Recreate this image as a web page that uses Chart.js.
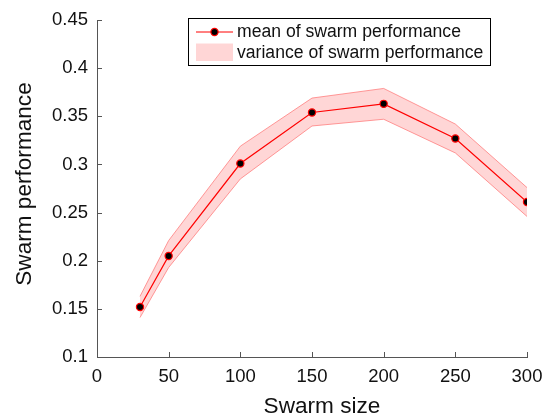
<!DOCTYPE html>
<html><head><meta charset="utf-8">
<script src="https://cdn.jsdelivr.net/npm/chart.js@4/dist/chart.umd.min.js"></script>
<style>html,body{margin:0;padding:0;background:#fff}canvas{display:block}</style>
</head><body>
<canvas id="c" width="552" height="415"></canvas>
<script>
// ---- data ----
const swarmSizes = [30, 50, 100, 150, 200, 250, 300];
const meanPerf   = [0.152, 0.205, 0.301, 0.354, 0.363, 0.327, 0.261];
const upperPerf  = [0.163, 0.221, 0.319, 0.369, 0.379, 0.342, 0.276];
const lowerPerf  = [0.141, 0.193, 0.285, 0.340, 0.347, 0.312, 0.246];
const xTickValues = [0, 50, 100, 150, 200, 250, 300];
const yTickValues = [0.1, 0.15, 0.2, 0.25, 0.3, 0.35, 0.4, 0.45];
const yTickLabels = ['0.1', '0.15', '0.2', '0.25', '0.3', '0.35', '0.4', '0.45'];
const legendLabels = ['mean of swarm performance', 'variance of swarm performance'];
const xTitle = 'Swarm size';
const yTitle = 'Swarm performance';

const FONT = '"Liberation Sans", Arial, sans-serif';
const toPts = (ys) => swarmSizes.map((x, i) => ({x: x, y: ys[i]}));

const BAND_FILL = 'rgba(255,0,0,0.16)';
const BAND_EDGE = 'rgba(255,120,120,0.75)';
const AXIS_COLOR = '#555';

const inwardTicks = {
  id: 'inwardTicks',
  afterDatasetsDraw(chart) {
    const {ctx, chartArea: a, scales: {x, y}} = chart;
    ctx.save();
    ctx.strokeStyle = AXIS_COLOR;
    ctx.lineWidth = 1;
    ctx.beginPath();
    xTickValues.forEach(v => {
      const px = Math.round(x.getPixelForValue(v)) + 0.5;
      ctx.moveTo(px, a.bottom); ctx.lineTo(px, a.bottom - 5);
    });
    yTickValues.forEach(v => {
      const py = Math.round(y.getPixelForValue(v)) + 0.5;
      ctx.moveTo(a.left, py); ctx.lineTo(a.left + 5, py);
    });
    ctx.stroke();
    ctx.restore();
  }
};

const axisTitles = {
  id: 'axisTitles',
  afterDraw(chart) {
    const {ctx} = chart;
    ctx.save();
    ctx.fillStyle = '#111';
    ctx.font = '22.6px ' + FONT;
    ctx.textAlign = 'center';
    ctx.textBaseline = 'alphabetic';
    ctx.fillText(xTitle, 322, 413);
    ctx.translate(31, 184);
    ctx.rotate(-Math.PI / 2);
    ctx.fillText(yTitle, 0, 0);
    ctx.restore();
  }
};

const boxLegend = {
  id: 'boxLegend',
  afterDraw(chart) {
    const {ctx} = chart;
    ctx.save();
    ctx.fillStyle = '#fff';
    ctx.fillRect(188.5, 18.5, 302, 47);
    ctx.strokeStyle = '#000';
    ctx.lineWidth = 1;
    ctx.strokeRect(188.5, 18.5, 302, 47);
    ctx.strokeStyle = '#ff0000';
    ctx.beginPath(); ctx.moveTo(196, 32); ctx.lineTo(233, 32); ctx.stroke();
    ctx.beginPath(); ctx.arc(214.5, 32, 3.6, 0, Math.PI * 2);
    ctx.fillStyle = '#000'; ctx.fill();
    ctx.strokeStyle = '#ff0000'; ctx.lineWidth = 1.2; ctx.stroke();
    ctx.fillStyle = 'rgba(255,0,0,0.16)';
    ctx.fillRect(196, 43.5, 37, 17.5);
    ctx.fillStyle = '#111';
    ctx.font = '17.6px ' + FONT;
    ctx.textBaseline = 'middle';
    ctx.textAlign = 'left';
    ctx.fillText(legendLabels[0], 237, 32.5);
    ctx.fillText(legendLabels[1], 237, 53);
    ctx.restore();
  }
};

new Chart(document.getElementById('c'), {
  type: 'line',
  data: {
    datasets: [
      {
        label: 'upper', data: toPts(upperPerf),
        borderColor: BAND_EDGE, borderWidth: 1, pointRadius: 0,
        backgroundColor: BAND_FILL, fill: '+1', tension: 0, order: 3
      },
      {
        label: 'lower', data: toPts(lowerPerf),
        borderColor: BAND_EDGE, borderWidth: 1, pointRadius: 0,
        fill: false, tension: 0, order: 2
      },
      {
        label: legendLabels[0], data: toPts(meanPerf),
        borderColor: '#ff0000', borderWidth: 1.2,
        pointRadius: 3.6, pointBackgroundColor: '#000',
        pointBorderColor: '#ff0000', pointBorderWidth: 1.2,
        fill: false, tension: 0, order: 1
      }
    ]
  },
  options: {
    responsive: false,
    animation: false,
    devicePixelRatio: 1,
    layout: {padding: {top: 19, right: 25, left: 0, bottom: 0}},
    plugins: {legend: {display: false}, tooltip: {enabled: false}},
    scales: {
      x: {
        type: 'linear', min: 0, max: 300,
        afterBuildTicks: (s) => { s.ticks = xTickValues.map(v => ({value: v})); },
        afterFit: (s) => { s.height = 58; },
        grid: {display: true, drawOnChartArea: false, drawTicks: false},
        border: {display: true, color: AXIS_COLOR, width: 1},
        ticks: {color: '#111', font: {family: FONT, size: 18.5}, padding: 9, maxRotation: 0,
                callback: (v) => String(v)},
        title: {display: false}
      },
      y: {
        type: 'linear', min: 0.1, max: 0.45,
        afterBuildTicks: (s) => { s.ticks = yTickValues.map(v => ({value: v})); },
        afterFit: (s) => { s.width = 97; },
        grid: {display: true, drawOnChartArea: false, drawTicks: false},
        border: {display: true, color: AXIS_COLOR, width: 1},
        ticks: {color: '#111', font: {family: FONT, size: 18.5}, padding: 9,
                callback: (v, i) => yTickLabels[i]},
        title: {display: false}
      }
    }
  },
  plugins: [inwardTicks, boxLegend, axisTitles]
});
</script>
</body></html>
